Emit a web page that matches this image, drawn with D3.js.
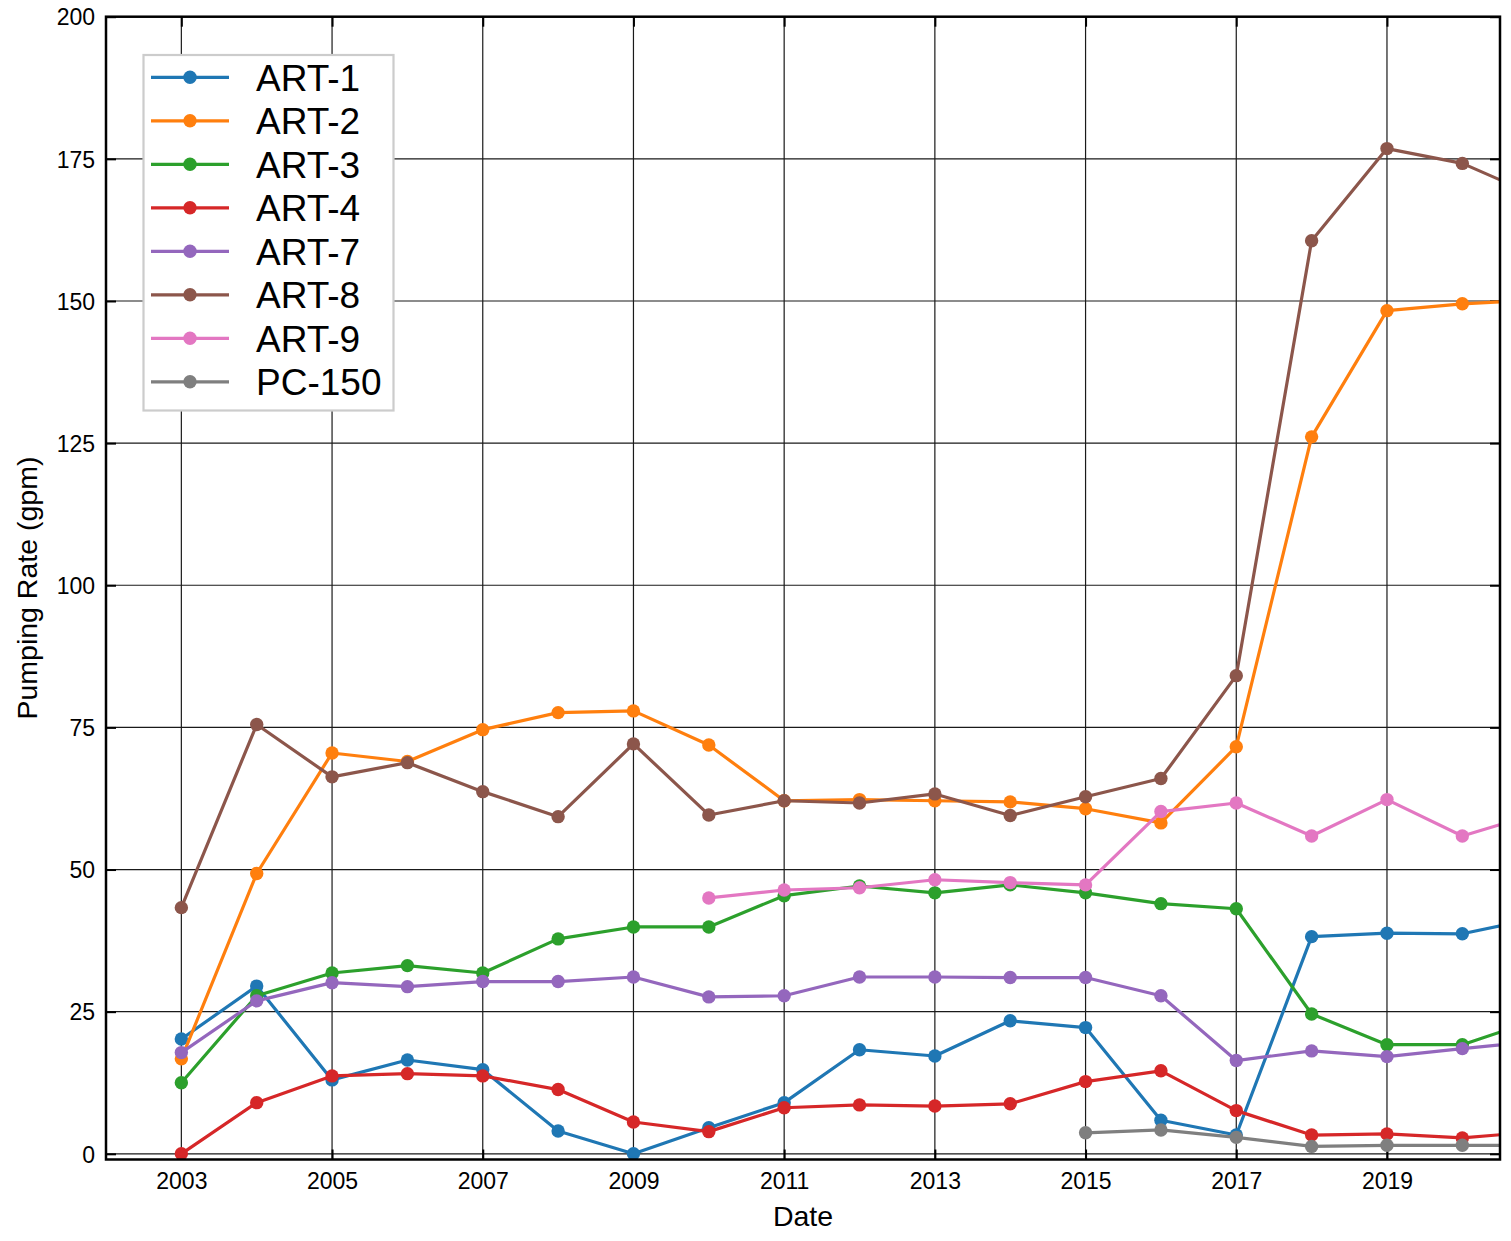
<!DOCTYPE html>
<html>
<head>
<meta charset="utf-8">
<script src="https://cdn.jsdelivr.net/npm/d3@7"></script>
<style>
  html, body { margin: 0; padding: 0; background: #fff; }
  svg { display: block; font-family: "Liberation Sans", Arial, sans-serif; }
</style>
</head>
<body>
<svg id="chart" width="1511" height="1241"></svg>
<script>
// Annual pumping rate per well (gpm)
const years = [2003, 2004, 2005, 2006, 2007, 2008, 2009, 2010, 2011, 2012,
               2013, 2014, 2015, 2016, 2017, 2018, 2019, 2020, 2021];

const art1  = [20.2, 29.5, 13.0, 16.5, 14.8, 4.0, 0.0, 4.6, 9.0, 18.3,
               17.2, 23.4, 22.2, 5.9, 3.3, 38.2, 38.8, 38.7, 41.5];
const art2  = [16.7, 49.3, 70.5, 69.0, 74.6, 77.6, 77.9, 71.9, 62.1, 62.3,
               62.1, 61.9, 60.7, 58.2, 71.6, 126.1, 148.3, 149.5, 150.2];
const art3  = [12.5, 27.8, 31.8, 33.1, 31.8, 37.8, 39.9, 39.9, 45.4, 47.1,
               45.9, 47.3, 45.9, 44.0, 43.1, 24.6, 19.2, 19.2, 23.6];
const art4  = [0.0, 9.0, 13.7, 14.1, 13.7, 11.3, 5.6, 3.9, 8.1, 8.6,
               8.4, 8.8, 12.7, 14.6, 7.6, 3.3, 3.5, 2.8, 3.9];
const art7  = [17.8, 26.9, 30.1, 29.4, 30.3, 30.3, 31.1, 27.6, 27.8, 31.1,
               31.1, 31.0, 31.0, 27.8, 16.4, 18.1, 17.1, 18.5, 19.8];
const art8  = [43.3, 75.5, 66.3, 68.8, 63.7, 59.3, 72.1, 59.6, 62.1, 61.7,
               63.3, 59.5, 62.8, 66.0, 84.1, 160.6, 176.8, 174.2, 168.4];
const art9  = [null, null, null, null, null, null, null, 45.0, 46.4, 46.8,
               48.2, 47.7, 47.3, 60.2, 61.7, 55.9, 62.3, 55.9, 59.9];
const pc150 = [null, null, null, null, null, null, null, null, null, null,
               null, null, 3.7, 4.2, 2.9, 1.3, 1.5, 1.5, 1.5];

const seriesNames  = ["ART-1", "ART-2", "ART-3", "ART-4", "ART-7", "ART-8", "ART-9", "PC-150"];
const seriesValues = [art1, art2, art3, art4, art7, art8, art9, pc150];
const seriesColors = ["#1f77b4", "#ff7f0e", "#2ca02c", "#d62728",
                      "#9467bd", "#8c564b", "#e377c2", "#7f7f7f"];

const xTickValues = [2003, 2005, 2007, 2009, 2011, 2013, 2015, 2017, 2019];
const yTickValues = [0, 25, 50, 75, 100, 125, 150, 175, 200];

const xLabel = "Date";
const yLabel = "Pumping Rate (gpm)";

// Plot frame
const plot = { left: 106, right: 1500, top: 16.7, bottom: 1159.5 };

const svg = d3.select("#chart");
svg.append("rect").attr("width", 1511).attr("height", 1241).attr("fill", "#fff");

const x = d3.scaleLinear().domain([2002.0, 2020.5]).range([plot.left, plot.right]);
const y = d3.scaleLinear().domain([-1, 200]).range([plot.bottom, plot.top]);

svg.append("defs").append("clipPath").attr("id", "plot-clip")
  .append("rect")
  .attr("x", plot.left).attr("y", plot.top)
  .attr("width", plot.right - plot.left).attr("height", plot.bottom - plot.top);

// Grid lines
const grid = svg.append("g").attr("class", "grid");
grid.selectAll("line.gx").data(xTickValues).join("line")
  .attr("class", "gx")
  .attr("x1", d => x(d)).attr("x2", d => x(d))
  .attr("y1", plot.top).attr("y2", plot.bottom)
  .attr("stroke", "#1a1a1a").attr("stroke-width", 1.2);
grid.selectAll("line.gy").data(yTickValues).join("line")
  .attr("class", "gy")
  .attr("x1", plot.left).attr("x2", plot.right)
  .attr("y1", d => y(d)).attr("y2", d => y(d))
  .attr("stroke", "#1a1a1a").attr("stroke-width", 1.2);

// Axes with inward ticks on all four sides
const tickLen = 10;
const fmt = d3.format("d");
const axB = svg.append("g").attr("transform", `translate(0,${plot.bottom})`)
  .call(d3.axisBottom(x).tickValues(xTickValues).tickFormat(fmt).tickSizeInner(-tickLen).tickSizeOuter(0).tickPadding(13));
const axL = svg.append("g").attr("transform", `translate(${plot.left},0)`)
  .call(d3.axisLeft(y).tickValues(yTickValues).tickFormat(fmt).tickSizeInner(-tickLen).tickSizeOuter(0).tickPadding(11));
const axT = svg.append("g").attr("transform", `translate(0,${plot.top})`)
  .call(d3.axisTop(x).tickValues(xTickValues).tickFormat("").tickSizeInner(-tickLen).tickSizeOuter(0));
const axR = svg.append("g").attr("transform", `translate(${plot.right},0)`)
  .call(d3.axisRight(y).tickValues(yTickValues).tickFormat("").tickSizeInner(-tickLen).tickSizeOuter(0));

[axB, axL, axT, axR].forEach(ax => {
  ax.select(".domain").remove();
  ax.selectAll(".tick line").attr("stroke", "#000").attr("stroke-width", 2);
  ax.selectAll(".tick text")
    .attr("fill", "#000")
    .style("font-family", "'Liberation Sans', Arial, sans-serif")
    .style("font-size", "23px");
});
axL.selectAll(".tick text").attr("dy", "0.36em");
axB.selectAll(".tick text").attr("dy", "0.71em");

// Series lines and markers
const line = d3.line()
  .defined(d => d.v !== null)
  .x(d => x(d.year))
  .y(d => y(d.v));

const dataG = svg.append("g").attr("clip-path", "url(#plot-clip)");
seriesNames.forEach((name, i) => {
  const pts = years.map((yr, j) => ({ year: yr, v: seriesValues[i][j] }));
  const g = dataG.append("g").attr("class", "series");
  g.append("path")
    .datum(pts)
    .attr("d", line)
    .attr("fill", "none")
    .attr("stroke", seriesColors[i])
    .attr("stroke-width", 3.2)
    .attr("stroke-linejoin", "round");
  g.selectAll("circle")
    .data(pts.filter(d => d.v !== null))
    .join("circle")
    .attr("cx", d => x(d.year))
    .attr("cy", d => y(d.v))
    .attr("r", 6.7)
    .attr("fill", seriesColors[i]);
});

// Frame
svg.append("rect")
  .attr("x", plot.left).attr("y", plot.top)
  .attr("width", plot.right - plot.left).attr("height", plot.bottom - plot.top)
  .attr("fill", "none").attr("stroke", "#000").attr("stroke-width", 2.5);

// Axis titles
svg.append("text")
  .attr("x", (plot.left + plot.right) / 2).attr("y", 1226)
  .attr("text-anchor", "middle")
  .style("font-size", "28.5px")
  .text(xLabel);
svg.append("text")
  .attr("transform", `translate(37,${(plot.top + plot.bottom) / 2}) rotate(-90)`)
  .attr("text-anchor", "middle")
  .style("font-size", "28.5px")
  .text(yLabel);

// Legend
const legend = svg.append("g").attr("class", "legend");
legend.append("rect")
  .attr("x", 143.5).attr("y", 55)
  .attr("width", 250).attr("height", 355.5)
  .attr("fill", "#fff").attr("stroke", "#cccccc").attr("stroke-width", 2.2);
seriesNames.forEach((name, i) => {
  const cy = 77.3 + i * 43.5;
  const row = legend.append("g");
  row.append("line")
    .attr("x1", 151).attr("x2", 229)
    .attr("y1", cy).attr("y2", cy)
    .attr("stroke", seriesColors[i]).attr("stroke-width", 3.2);
  row.append("circle")
    .attr("cx", 190).attr("cy", cy).attr("r", 6.7)
    .attr("fill", seriesColors[i]);
  row.append("text")
    .attr("x", 256).attr("y", cy)
    .attr("dy", "0.36em")
    .style("font-size", "37px")
    .text(name);
});
</script>
</body>
</html>
